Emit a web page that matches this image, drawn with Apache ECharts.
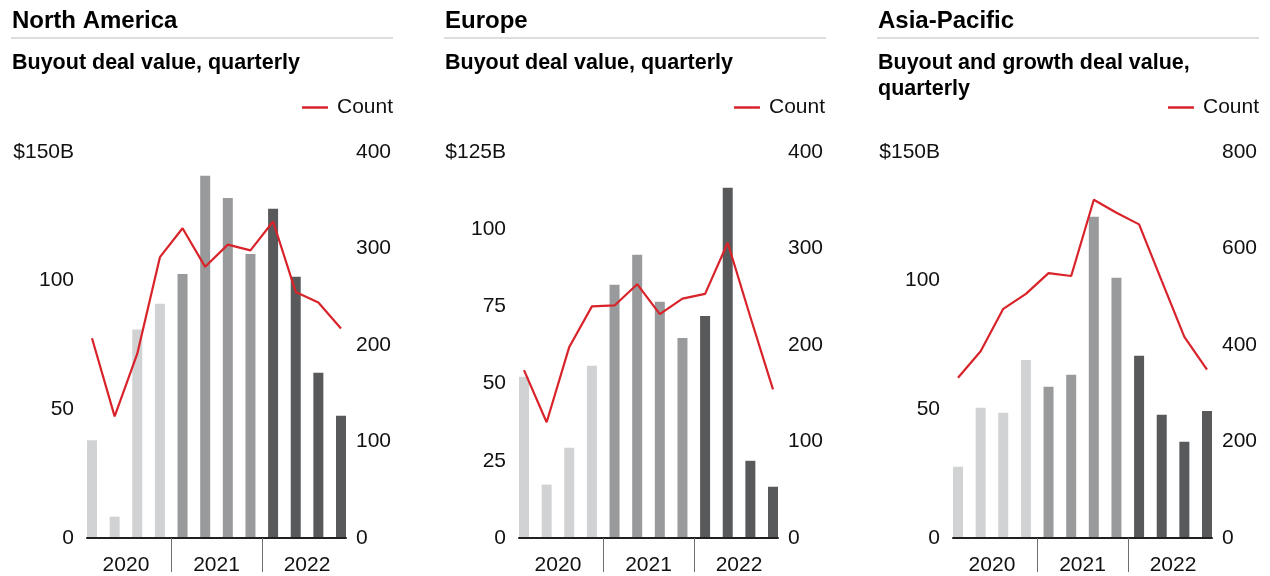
<!DOCTYPE html>
<html>
<head>
<meta charset="utf-8">
<script src="https://cdn.jsdelivr.net/npm/echarts@6/dist/echarts.min.js"></script>
<style>
html,body{margin:0;padding:0;background:#fff;}
#chart{width:1270px;height:576px;}
</style>
</head>
<body>
<div id="chart"></div>
<script>
// ---- data ----
const quarters = ['Q1 2020','Q2 2020','Q3 2020','Q4 2020','Q1 2021','Q2 2021','Q3 2021','Q4 2021','Q1 2022','Q2 2022','Q3 2022','Q4 2022'];
const years = ['2020', '2021', '2022'];
const regionTitles = ['North America', 'Europe', 'Asia-Pacific'];
const subtitles = ['Buyout deal value, quarterly', 'Buyout deal value, quarterly', 'Buyout and growth deal value,\nquarterly'];
const naValue = [38, 8.3, 81, 91, 102.6, 140.8, 132.1, 110.4, 127.9, 101.5, 64.2, 47.5];
const naCount = [207, 126, 191, 291, 321, 281, 304, 298, 328, 255, 244, 217];
const euValue = [52.2, 17.3, 29.2, 55.8, 82, 91.7, 76.5, 64.8, 71.9, 113.4, 25, 16.6];
const euCount = [174, 120, 198, 240, 241, 263, 232, 248, 253, 306, 229, 154];
const apValue = [27.7, 50.6, 48.7, 69.2, 58.8, 63.4, 124.8, 101.1, 70.8, 47.9, 37.4, 49.4];
const apCount = [332, 387, 475, 506, 549, 543, 701, 674, 650, 533, 417, 349];
const leftMax = [150, 125, 150];
const leftInterval = [50, 25, 50];
const rightMax = [400, 400, 800];
const rightInterval = [100, 100, 200];
const lineName = 'Count';

// ---- styling ----
const yearColors = ['#d1d2d4', '#999a9b', '#58595b'];
const red = '#d9232a';
const FONT = '"Liberation Sans", Arial, sans-serif';
const panelLeft = [12, 445, 878];
const gridLeft = [87, 519, 953];
const gridWidth = 259;
const halfBar = 0.221;

const valuesArr = [naValue, euValue, apValue];
const countsArr = [naCount, euCount, apCount];

const chart = echarts.init(document.getElementById('chart'));

const option = {
  animation: false,
  backgroundColor: '#fff',
  textStyle: { fontFamily: FONT },
  title: [],
  legend: [],
  grid: [],
  xAxis: [],
  yAxis: [],
  series: [],
  graphic: []
};

for (let p = 0; p < 3; p++) {
  option.title.push({
    text: regionTitles[p],
    left: panelLeft[p], top: 9, padding: 0,
    textStyle: { fontFamily: FONT, fontSize: 24, fontWeight: 'bold', color: '#000' }
  });
  option.title.push({
    text: subtitles[p],
    left: panelLeft[p], top: 50, padding: 0,
    textStyle: { fontFamily: FONT, fontSize: 21.5, fontWeight: 'bold', color: '#000', lineHeight: 26 }
  });
  option.graphic.push({
    type: 'line',
    shape: { x1: panelLeft[p] - 1, y1: 38, x2: panelLeft[p] + 381, y2: 38 },
    style: { stroke: '#bdbdbd', lineWidth: 1 }
  });
  option.legend.push({
    data: [lineName],
    right: 1270 - (gridLeft[p] + gridWidth + 47),
    top: 97,
    padding: 0,
    icon: 'rect',
    itemWidth: 26,
    itemHeight: 2.5,
    itemGap: 0,
    textStyle: { fontFamily: FONT, fontSize: 21, color: '#111', padding: [0, 0, 0, 4] },
    seriesIndex: [p * 2 + 1]
  });
  option.grid.push({
    left: gridLeft[p], width: gridWidth, top: 152, height: 386, containLabel: false
  });
  // x axis (value-based positions of quarters)
  option.xAxis.push({
    type: 'value',
    gridIndex: p,
    z: 10,
    min: -halfBar,
    max: quarters.length - 1 + halfBar,
    splitLine: { show: false },
    axisLine: { show: true, onZero: false, lineStyle: { color: '#231f20', width: 2 } },
    axisTick: {
      show: true, length: 34, inside: false,
      customValues: years.slice(1).map((y, k) => (k + 1) * 4 - 0.5),
      lineStyle: { color: '#6d6e70', width: 1 }
    },
    axisLabel: {
      show: true,
      customValues: years.map((y, k) => k * 4 + 1.5),
      formatter: v => years[Math.round((v - 1.5) / 4)],
      fontFamily: FONT, fontSize: 21, color: '#111', margin: 17
    }
  });
  option.yAxis.push({
    type: 'value', gridIndex: p, min: 0, max: leftMax[p], interval: leftInterval[p],
    splitLine: { show: false }, axisLine: { show: false }, axisTick: { show: false },
    axisLabel: {
      fontFamily: FONT, fontSize: 21, color: '#111', margin: 13,
      formatter: v => v === leftMax[p] ? '$' + v + 'B' : String(v)
    }
  });
  option.yAxis.push({
    type: 'value', gridIndex: p, position: 'right', min: 0, max: rightMax[p], interval: rightInterval[p],
    splitLine: { show: false }, axisLine: { show: false }, axisTick: { show: false },
    axisLabel: { fontFamily: FONT, fontSize: 21, color: '#111', margin: 10 }
  });
  option.series.push({
    type: 'bar',
    name: 'Value',
    xAxisIndex: p, yAxisIndex: p * 2,
    barWidth: 10,
    data: valuesArr[p].map((v, i) => ({
      value: [i, v],
      itemStyle: { color: yearColors[Math.floor(i / 4)] }
    }))
  });
  option.series.push({
    type: 'line',
    name: lineName,
    xAxisIndex: p, yAxisIndex: p * 2 + 1,
    symbol: 'none',
    color: red,
    lineStyle: { color: red, width: 2.2 },
    data: countsArr[p].map((v, i) => [i, v]),
    z: 5
  });
}

chart.setOption(option);
</script>
</body>
</html>
